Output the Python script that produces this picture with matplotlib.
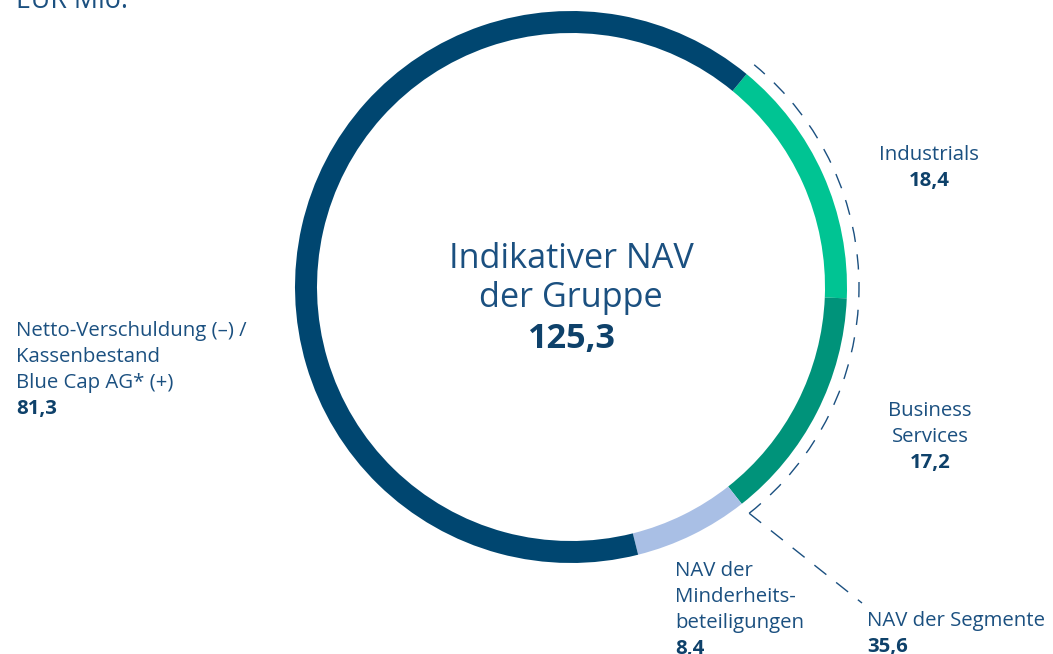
"""Donut: indicative NAV of the group, split into segments and net cash."""

import matplotlib

matplotlib.use("Agg")

import matplotlib.pyplot as plt
import numpy as np
from matplotlib.patches import Arc

# data
labels = [
    "Industrials",
    "Business\nServices",
    "NAV der\nMinderheits-\nbeteiligungen",
    "Netto-Verschuldung (–) /\nKassenbestand\nBlue Cap AG* (+)",
]
values = [18.4, 17.2, 8.4, 81.3]
total_label = "Indikativer NAV\nder Gruppe"
total_value = 125.3
segments_label = "NAV der Segmente"
unit_label = "EUR Mio."

colors = ["#00C493", "#00937A", "#A9BFE5", "#004670"]
TEXT = "#1B5080"
BOLD = "#0E416A"

W, H = 1053, 654
plt.rcParams["font.family"] = ["Open Sans", "DejaVu Sans"]


def fmt(v):
    return f"{v:.1f}".replace(".", ",")


fig = plt.figure(figsize=(W / 100, H / 100), dpi=100)
ax = fig.add_axes([0, 0, 1, 1])

cx, cy, r = 571, H - 287, 276
start = 50.5  # Industrials begins ~39.5 deg clockwise from the top
ax.pie(
    values,
    colors=colors,
    startangle=start,
    counterclock=False,
    center=(cx, cy),
    radius=r,
    wedgeprops=dict(width=22, linewidth=0),
)
ax.set_xlim(0, W)
ax.set_ylim(0, H)
ax.set_aspect("equal")
ax.axis("off")

# dashed bracket around the two segments
seg_sum = values[0] + values[1]
end = start - seg_sum / sum(values) * 360
ra = 288
ax.add_patch(
    Arc((cx, cy), 2 * ra, 2 * ra, theta1=end, theta2=start,
        color="#1B5080", lw=1.0, ls=(0, (11, 9)))
)
ex, ey = cx + ra * np.cos(np.radians(end)), cy + ra * np.sin(np.radians(end))
ax.plot([ex, 862], [ey, H - 603], color="#1B5080", lw=1.0, ls=(0, (11, 9)))

# centre text
for y, txt in zip((268, 307), total_label.split("\n")):
    ax.text(cx, H - y, txt, ha="center", va="baseline",
            fontsize=24.7, color=TEXT)
ax.text(cx, H - 348, fmt(total_value), ha="center", va="baseline",
        fontsize=24.7, fontweight="bold", color=BOLD)

ax.text(16, H - 8, unit_label, ha="left", va="baseline", fontsize=19.3,
        color=TEXT)


def label(x, y, text, value, ha):
    lines = text.split("\n")
    for i, ln in enumerate(lines):
        ax.text(x, H - (y + 26 * i), ln, ha=ha, va="baseline",
                fontsize=14.7, color=TEXT)
    ax.text(x, H - (y + 26 * len(lines)), fmt(value), ha=ha,
            va="baseline", fontsize=14.7, fontweight="bold", color=BOLD)


label(929, 160, labels[0], values[0], "center")
label(930, 416, labels[1], values[1], "center")
label(675, 576, labels[2], values[2], "left")
label(16, 336, labels[3], values[3], "left")
label(867, 626, segments_label, seg_sum, "left")

fig.savefig("out.png", dpi=100)
